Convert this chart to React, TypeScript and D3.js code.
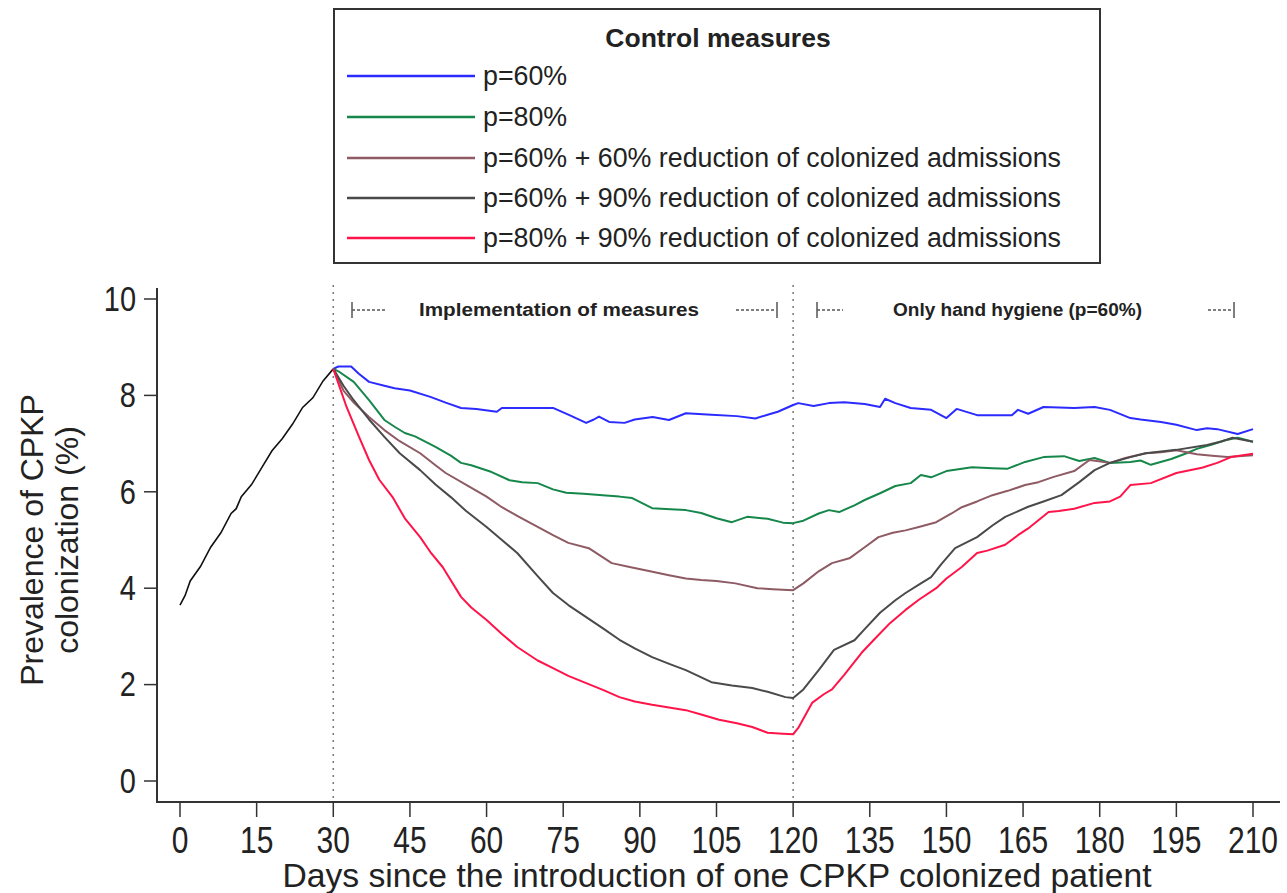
import React from "react";
import * as d3 from "d3";

const xTicks = [0, 15, 30, 45, 60, 75, 90, 105, 120, 135, 150, 165, 180, 195, 210];
const yTicks = [0, 2, 4, 6, 8, 10];

const baseline: [number, number][] = [[0,3.65],[1,3.85],[2,4.15],[4,4.45],[6,4.85],[8,5.15],[10,5.55],[11,5.65],[12,5.9],[14,6.15],[16,6.5],[18,6.85],[20,7.1],[22,7.4],[24,7.75],[26,7.95],[28,8.3],[30,8.55]];

const p60: [number, number][] = [[30,8.55],[31,8.6],[33.5,8.6],[35,8.45],[37,8.28],[40,8.2],[42,8.15],[45,8.1],[49,7.97],[52,7.85],[55,7.74],[58,7.72],[62,7.66],[63,7.74],[68,7.74],[73,7.74],[76,7.6],[79.5,7.43],[81,7.5],[82,7.56],[84,7.45],[87,7.43],[89,7.5],[92.5,7.55],[95.7,7.49],[99,7.63],[104,7.6],[109,7.57],[112.6,7.52],[115,7.6],[117,7.66],[120,7.8],[121,7.84],[124,7.78],[127,7.84],[130,7.86],[134,7.82],[137,7.76],[138,7.93],[140,7.84],[143,7.74],[147,7.7],[150,7.53],[152,7.72],[156,7.59],[160,7.59],[162.8,7.59],[164,7.7],[166,7.62],[169,7.76],[175,7.74],[179,7.76],[182,7.7],[186,7.53],[188,7.5],[192,7.45],[195,7.39],[199,7.28],[201,7.32],[203,7.3],[207,7.2],[210,7.3]];

const p80: [number, number][] = [[30,8.55],[31,8.5],[34,8.28],[37,7.9],[40,7.49],[42,7.35],[44,7.22],[46,7.15],[50,6.93],[53,6.75],[55,6.6],[57,6.55],[61,6.41],[64.5,6.24],[67,6.2],[70,6.18],[73,6.05],[75.6,5.98],[79,5.96],[82.7,5.93],[86,5.9],[88.5,5.87],[92.4,5.66],[96,5.64],[99,5.62],[102,5.56],[105,5.45],[108,5.37],[111,5.48],[115,5.44],[118,5.36],[120,5.35],[122,5.4],[125,5.55],[127,5.62],[129,5.58],[132,5.72],[134,5.83],[137,5.97],[140,6.12],[143,6.18],[145,6.35],[147,6.3],[150,6.43],[155,6.51],[159,6.49],[162,6.48],[165.4,6.62],[169,6.72],[173,6.74],[176,6.64],[179,6.7],[182,6.6],[186,6.62],[188,6.65],[190,6.56],[194,6.68],[197,6.8],[199,6.89],[202,6.98],[204.5,7.07],[207,7.12],[210,7.04]];

const p60r60: [number, number][] = [[30,8.55],[32,8.1],[34,7.85],[37,7.55],[40,7.28],[43,7.05],[47,6.8],[50,6.55],[52,6.39],[56.7,6.1],[60,5.9],[63,5.68],[66,5.5],[70,5.27],[73,5.1],[76,4.94],[80,4.83],[84.5,4.52],[88,4.44],[92,4.35],[95.7,4.27],[99,4.2],[102,4.17],[105,4.15],[108.7,4.1],[113,4.0],[116,3.98],[120,3.96],[122,4.1],[125,4.35],[127.6,4.52],[131,4.62],[134,4.85],[136.7,5.06],[139.5,5.15],[142,5.2],[144.6,5.27],[148,5.37],[151,5.55],[153,5.68],[156,5.8],[159,5.93],[162,6.02],[165.4,6.14],[168,6.2],[171,6.31],[175,6.43],[178,6.66],[182,6.6],[185,6.7],[189,6.8],[192,6.82],[195,6.86],[199,6.78],[202,6.75],[205,6.72],[210,6.76]];

const p60r90: [number, number][] = [[30,8.55],[32,8.2],[34,7.9],[37,7.5],[40,7.14],[43,6.8],[47,6.45],[50,6.15],[53,5.89],[56,5.6],[60,5.27],[63,5.0],[66,4.73],[70,4.25],[73,3.9],[76,3.65],[79.5,3.4],[83,3.15],[86,2.93],[89,2.75],[92.4,2.57],[96,2.42],[99,2.3],[104,2.05],[108,1.98],[112,1.93],[115,1.85],[118.5,1.74],[120,1.72],[122,1.9],[125,2.3],[128,2.72],[132,2.92],[134,3.15],[137,3.49],[140,3.75],[142,3.9],[145,4.1],[147,4.23],[149,4.5],[151.7,4.83],[156,5.06],[159,5.3],[161.5,5.48],[166,5.69],[169,5.8],[172.5,5.93],[176,6.2],[179,6.45],[182,6.6],[186,6.72],[189,6.8],[195,6.87],[201,6.97],[204,7.05],[206,7.12],[210,7.04]];

const p80r90: [number, number][] = [[30,8.55],[32.6,7.76],[35,7.15],[37,6.66],[39,6.25],[41.6,5.89],[44,5.45],[47,5.06],[49,4.75],[51.4,4.44],[55,3.82],[57,3.6],[60,3.34],[63,3.05],[66,2.78],[70,2.5],[73,2.34],[76,2.18],[79.5,2.03],[83,1.88],[86,1.74],[89,1.65],[92.4,1.58],[96,1.52],[99,1.47],[102,1.38],[105.5,1.27],[109,1.2],[112,1.12],[115,1.0],[118,0.98],[120,0.97],[121,1.1],[123.7,1.62],[126,1.8],[127.6,1.9],[130,2.2],[133.4,2.66],[136,2.95],[139,3.28],[142,3.55],[144.6,3.76],[148,4.0],[150,4.2],[153,4.44],[156,4.73],[158,4.78],[161.5,4.9],[164,5.1],[166,5.24],[170,5.58],[172,5.6],[175,5.65],[179,5.77],[182,5.8],[184,5.9],[186,6.14],[190,6.18],[195,6.39],[200,6.5],[203,6.6],[205.7,6.72],[210,6.79]];

const seriesNames = [
  "p=60%",
  "p=80%",
  "p=60% + 60% reduction of colonized admissions",
  "p=60% + 90% reduction of colonized admissions",
  "p=80% + 90% reduction of colonized admissions",
];
const seriesData = [p60, p80, p60r60, p60r90, p80r90];
const seriesColors = ["#2b2bff", "#16874a", "#8e5a63", "#4a4a4a", "#ff1449"];

const FONT = "'Liberation Sans', Arial, Helvetica, sans-serif";

export default function App() {
  const W = 1287, H = 893;
  const x = d3.scaleLinear().domain([0, 210]).range([180, 1253]);
  const y = d3.scaleLinear().domain([0, 10]).range([781, 299]);
  const line = d3.line<[number, number]>().x(d => x(d[0])).y(d => y(d[1]));
  const axisColor = "#333";
  const textColor = "#222";
  const legendRows = [76, 117, 158, 198, 238];

  return (
    <svg width={W} height={H} style={{ position: "absolute", left: 0, top: 0, background: "#fff" }} fontFamily={FONT}>
      <rect x={0} y={0} width={W} height={H} fill="#fff" />
      {[30, 120].map(d => (
        <line key={d} x1={x(d)} x2={x(d)} y1={285} y2={800} stroke="#777" strokeWidth={1.5} strokeDasharray="2,5" />
      ))}
      <line x1={157} x2={157} y1={288} y2={803} stroke={axisColor} strokeWidth={2} />
      <line x1={156} x2={1280} y1={802} y2={802} stroke={axisColor} strokeWidth={2} />
      {yTicks.map(t => (
        <g key={t}>
          <line x1={144} x2={157} y1={y(t)} y2={y(t)} stroke={axisColor} strokeWidth={1.5} />
          <text transform={`translate(136,${y(t)}) scale(1,1.18)`} textAnchor="end" dominantBaseline="central" fontSize={29} fill={textColor}>{t}</text>
        </g>
      ))}
      {xTicks.map(t => (
        <g key={t}>
          <line x1={x(t)} x2={x(t)} y1={802} y2={817} stroke={axisColor} strokeWidth={1.5} />
          <text transform={`translate(${x(t)},841) scale(1,1.2)`} textAnchor="middle" dominantBaseline="central" fontSize={30} fill={textColor}>{t}</text>
        </g>
      ))}
      <text x={717} y={887} textAnchor="middle" fontSize={33} fill={textColor} textLength={869} lengthAdjust="spacingAndGlyphs">Days since the introduction of one CPKP colonized patient</text>
      <g transform="translate(0,540) rotate(-90)" fill={textColor} fontSize={32}>
        <text x={0} y={43} textAnchor="middle">Prevalence of CPKP</text>
        <text x={0} y={78} textAnchor="middle">colonization (%)</text>
      </g>

      <g stroke="#555" strokeWidth={1.5}>
        <line x1={352} x2={352} y1={302} y2={318} />
        <line x1={352} x2={386} y1={310} y2={310} strokeDasharray="3,2" />
        <line x1={736} x2={776} y1={310} y2={310} strokeDasharray="3,2" />
        <line x1={777} x2={777} y1={302} y2={318} />
        <line x1={817} x2={817} y1={302} y2={318} />
        <line x1={817} x2={843} y1={310} y2={310} strokeDasharray="3,2" />
        <line x1={1208} x2={1233} y1={310} y2={310} strokeDasharray="3,2" />
        <line x1={1234} x2={1234} y1={302} y2={318} />
      </g>
      <text x={419} y={310} dominantBaseline="central" fontSize={18} fontWeight="bold" fill={textColor} textLength={280} lengthAdjust="spacingAndGlyphs">Implementation of measures</text>
      <text x={893} y={310} dominantBaseline="central" fontSize={18} fontWeight="bold" fill={textColor} textLength={249} lengthAdjust="spacingAndGlyphs">Only hand hygiene (p=60%)</text>

      <path d={line(baseline) || ""} fill="none" stroke="#111" strokeWidth={1.6} />
      {seriesData.map((s, i) => (
        <path key={i} d={line(s) || ""} fill="none" stroke={seriesColors[i]} strokeWidth={2} strokeLinejoin="round" />
      ))}

      <rect x={334} y={9} width={766} height={254} fill="#fff" stroke="#333" strokeWidth={2} />
      <text x={718} y={38} textAnchor="middle" dominantBaseline="central" fontSize={26.5} fontWeight="bold" fill={textColor}>Control measures</text>
      {seriesNames.map((n, i) => (
        <g key={n}>
          <line x1={347} x2={475} y1={legendRows[i]} y2={legendRows[i]} stroke={seriesColors[i]} strokeWidth={2.5} />
          <text x={483} y={legendRows[i]} dominantBaseline="central" fontSize={26.8} fill={textColor}>{n}</text>
        </g>
      ))}
    </svg>
  );
}
